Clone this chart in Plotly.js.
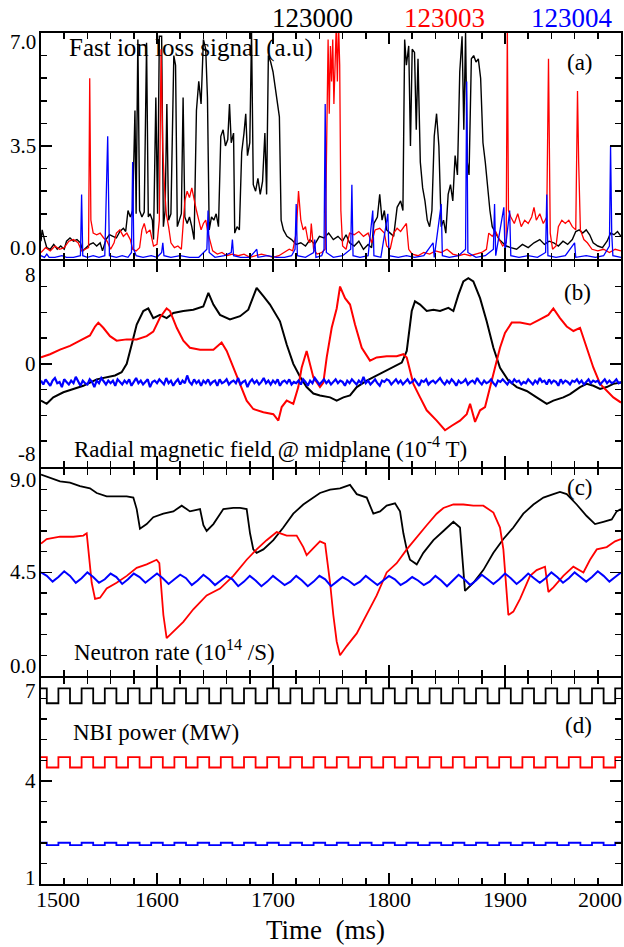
<!DOCTYPE html>
<html><head><meta charset="utf-8">
<script src="https://cdn.plot.ly/plotly-3.0.1.min.js"></script>
<style>html,body{margin:0;padding:0;background:#fff}#chart{width:624px;height:947px}</style>
</head><body><div id="chart"></div>
<script>
// ---------- shot labels ----------
const shots = ['123000', '123003', '123004'];
const shotColors = ['#000000', '#ff0000', '#0000ff'];

// ---------- axis ticks ----------
const xTickVals = [1500, 1600, 1700, 1800, 1900, 2000];
const xTickText = ['1500', '1600', '1700', '1800', '1900', '2000'];
const aTickVals = [0, 3.5, 7];   const aTickText = ['0.0', '3.5', '7.0'];
const bTickVals = [-8, 0, 8];    const bTickText = ['-8', '0', '8'];
const cTickVals = [0, 4.5, 9];   const cTickText = ['0.0', '4.5', '9.0'];
const dTickVals = [1, 4, 7];     const dTickText = ['1', '4', '7'];

// ---------- (a) fast ion loss signal ----------
const aBlackT = [1500,1501,1503,1505,1508,1511,1514,1517,1520,1522,1525,1528,1531,1534,1536,1539,1542,1545,1548,1551,1553,1556,1559,1562,1565,1568,1571,1573,1575,1577,1579,1581,1582,1583.5,1585,1587,1589,1591,1592.5,1594,1596,1597,1599,1600.5,1602,1604,1605.5,1607,1608.5,1610,1612,1614.5,1616,1617.5,1619,1621,1622.5,1624,1626,1628,1630,1632,1634,1636,1638,1640,1642,1643.5,1645,1647,1649,1651,1653,1655,1657,1659,1661,1662.5,1664,1666,1667,1669,1671,1673,1675,1676.5,1678,1680,1681.5,1683,1685,1687,1689,1691,1693,1694.5,1696,1698,1700,1702,1704,1705.5,1707,1709,1712,1716,1720,1724,1728,1732,1736,1740,1744,1748,1752,1756,1760,1763,1766,1770,1774,1778,1782,1785,1787,1790,1792,1794,1796,1798,1801,1804,1807,1810,1812,1813.5,1815,1817,1818.5,1820,1822,1823.5,1825,1827,1829,1831,1833,1835,1837,1839,1841,1843,1845,1847,1849,1851,1853,1855,1857,1859,1861,1863,1864.5,1866,1867.5,1869,1871,1873,1875,1877,1879,1881,1883,1885,1887,1889,1892,1895,1898,1901,1905,1910,1915,1920,1925,1930,1934,1938,1942,1946,1950,1954,1958,1961,1964,1967,1970,1973,1976,1980,1984,1988,1991,1994,1997,2000];
const aBlackV = [0.55,0.9,0.6,0.35,0.3,0.45,0.3,0.4,0.3,0.55,0.65,0.55,0.6,0.5,0.25,0.35,0.45,0.5,0.4,0.5,0.25,0.6,0.75,0.7,0.65,0.85,0.95,0.85,1.5,1.3,1.5,4.6,1.4,6.8,1.5,1.3,1.45,6.7,1.3,1.4,1.2,0.6,5.0,1.4,6.9,6.9,1.0,1.5,4.8,1.2,1.4,6.3,6.0,1.0,1.2,1.4,5.0,1.3,1.1,1.3,1.0,0.6,4.6,5.5,4.8,6.8,6.5,5.0,0.9,1.3,1.2,1.4,1.0,3.8,4.0,3.5,3.7,4.8,3.6,3.9,0.8,1.0,0.9,3.3,3.9,4.5,3.2,3.6,7.0,2.3,2.1,2.5,2.0,2.4,3.9,2.0,6.3,6.1,5.8,5.3,4.7,4.4,1.2,0.9,0.7,0.6,0.45,0.5,0.4,0.6,0.45,0.7,0.65,0.8,0.6,0.7,0.55,0.75,0.5,0.4,0.55,0.3,0.45,0.35,1.1,1.3,2.0,1.2,1.5,0.9,0.8,0.7,1.6,1.8,1.5,6.8,6.0,6.6,3.5,6.5,6.4,4.0,6.2,3.0,2.2,1.8,1.2,1.0,1.5,3.8,4.5,3.5,1.0,1.2,0.8,2.0,2.3,1.8,3.2,2.6,5.8,6.9,4.0,7.0,3.0,2.6,6.2,6.3,6.1,6.2,5.6,3.6,3.0,2.2,1.5,1.0,0.8,0.6,0.5,0.4,0.35,0.3,0.45,0.35,0.5,0.6,0.45,0.55,0.5,0.4,0.55,0.45,0.6,0.85,0.9,0.8,0.9,0.75,0.5,0.4,0.35,0.55,0.8,0.75,0.85,0.7];

const aRedT = [1500,1504,1508,1512,1516,1520,1524,1528,1532,1535,1538,1541,1542,1543,1545,1548,1551,1554,1557,1560,1563,1565,1568,1571,1574,1577,1579,1582,1585,1587,1589,1591,1594,1597,1600,1602,1603.5,1605,1606.5,1608,1610,1612,1615,1618,1621,1624,1626,1628,1630,1632,1634,1636,1638,1640,1642,1644,1646,1648,1652,1656,1660,1665,1670,1675,1680,1685,1690,1695,1700,1705,1710,1714,1717,1720,1722,1724,1726,1728,1730,1732,1733,1735,1738,1742,1745,1746.5,1747.5,1748.5,1749.5,1750.5,1751.5,1752.5,1753.5,1754.5,1755.5,1756.5,1757.5,1758.5,1760,1763,1766,1770,1774,1778,1782,1785,1788,1792,1796,1798,1801,1804,1807,1810,1815,1817,1820,1825,1830,1835,1840,1845,1850,1855,1860,1865,1870,1875,1880,1884,1886,1889,1892,1895,1898,1901,1902,1903,1905,1908,1911,1914,1917,1920,1923,1925,1927,1930,1933,1936,1937.5,1939,1941,1944,1946,1949,1952,1955,1958,1961,1962.5,1963.5,1965,1968,1971,1975,1980,1985,1990,1995,2000];
const aRedV = [0.2,0.35,0.25,0.4,0.3,0.35,0.55,0.6,0.5,0.25,0.3,0.35,5.6,1.2,0.8,0.75,0.8,0.65,0.55,0.3,0.5,0.8,0.9,0.7,0.8,0.6,0.3,0.25,0.35,0.9,1.1,0.8,0.9,0.4,0.45,1.2,6.5,3.4,2.2,1.4,1.0,0.5,0.35,0.4,0.3,1.8,2.1,1.9,2.2,1.8,1.5,1.2,0.9,1.1,1.2,0.8,0.5,0.25,0.15,0.2,0.1,0.15,0.1,0.15,0.05,0.1,0.15,0.1,0.05,0.1,0.2,0.3,0.25,0.8,2.1,1.2,0.9,1.0,0.6,0.5,1.1,0.3,0.15,0.2,0.3,5.0,6.8,4.5,6.6,5.5,6.8,4.8,6.3,7.2,5.5,7.3,6.0,1.5,0.4,0.3,0.8,0.75,0.85,0.7,0.8,0.5,0.9,0.95,0.8,0.4,0.3,0.8,0.95,0.85,1.1,0.3,0.15,0.1,0.2,0.15,0.25,0.2,0.3,0.15,0.1,0.15,0.1,0.15,0.2,0.3,0.8,0.7,0.85,0.6,0.4,0.5,7.2,1.5,1.3,1.1,1.4,1.0,1.2,1.1,1.3,1.6,1.2,1.4,1.1,1.3,6.2,0.8,0.3,0.4,1.0,1.2,1.1,1.2,1.0,0.9,5.2,3.0,0.9,0.6,0.5,0.3,0.25,0.3,0.2,0.3,0.25];

const aBlueT = [1500,1503,1505,1507,1512,1518,1522,1528,1534,1535,1536,1540,1545,1550,1555,1557.5,1559,1565,1570,1575,1578,1579,1580,1582,1588,1595,1600,1604,1605,1606,1612,1620,1628,1636,1643,1644,1645,1650,1658,1664,1665,1666,1672,1680,1686,1687,1695,1703,1710,1716,1719,1720,1721,1728,1735,1736,1737,1742,1744,1745,1746,1752,1760,1767,1768,1769,1775,1782,1786,1787,1793,1799,1800,1808,1815,1822,1830,1838,1839,1845,1846,1852,1860,1866,1867,1868,1875,1883,1890,1891,1892,1899,1900,1904,1905,1912,1920,1928,1935,1936,1937,1944,1952,1960,1961,1970,1978,1985,1990,1991,1992,1993,2000];
const aBlueV = [0.1,0.05,0.15,0.05,0.05,0.1,0.05,0.05,0.1,2.0,0.1,0.05,0.1,0.05,0.1,3.8,0.1,0.05,0.1,0.05,0.2,3.0,0.3,0.1,0.05,0.1,0.05,0.2,0.5,0.1,0.05,0.1,0.05,0.05,0.3,1.5,0.2,0.05,0.1,0.2,0.6,0.1,0.05,0.05,0.3,0.05,0.1,0.05,0.05,0.1,0.3,1.7,0.1,0.05,0.2,0.6,0.05,0.1,0.3,4.8,0.2,0.05,0.1,0.3,2.3,0.1,0.05,0.1,1.5,0.1,0.05,1.4,0.1,0.05,0.1,0.05,0.1,0.5,0.05,1.7,0.1,0.05,0.1,0.3,5.5,0.2,0.05,0.1,0.3,1.7,0.1,1.6,0.2,1.5,0.1,0.05,0.1,0.05,0.2,2.0,0.1,0.05,0.1,0.5,0.05,0.1,0.05,0.1,0.4,3.5,0.8,0.1,0.05];

// ---------- (b) radial magnetic field ----------
const bBlackT = [1500,1504.9,1510.6,1519.3,1527.9,1536.5,1548,1556.6,1563.8,1569.5,1573.9,1578.2,1582.5,1588.2,1592.5,1596.8,1602.6,1608.3,1614.1,1622.7,1631.3,1639.9,1644.3,1648.6,1654.3,1662.9,1671.6,1678.7,1685.9,1691.7,1697.4,1706,1711.8,1717.5,1723.3,1729,1734.8,1740.5,1749.2,1754.9,1760.7,1766.4,1772.2,1780.8,1789.4,1798,1806.6,1811,1815.3,1819.6,1822.4,1826.8,1832.5,1838.3,1844,1851.2,1855.5,1859.8,1864.1,1868.4,1872.7,1878.5,1884.2,1890,1895.7,1902.9,1910.1,1918.7,1927.3,1936,1941.7,1950.3,1956.1,1964.7,1970.4,1976.2,1982,1987.7,1993.4,2000];
const bBlackV = [-2.85,-3.1,-2.6,-2.2,-1.95,-1.7,-1.2,-1.05,-0.9,-0.65,0,1.5,3.05,4.1,4.3,3.55,3.8,3.55,3.95,4.1,4.2,4.45,5.5,4.6,3.8,3.45,3.7,4.2,5.9,5.25,4.6,3.3,1.5,0,-1.0,-1.8,-2.3,-2.45,-2.6,-2.85,-2.6,-2.45,-1.8,-1.3,-0.9,-0.55,-0.15,0.1,1.0,4.1,4.85,4.6,4.1,4.2,4.1,4.35,4.1,5.35,6.4,6.65,6.4,5.1,3.3,1.25,-0.3,-1.3,-1.8,-2.1,-2.6,-3.1,-2.85,-2.6,-2.35,-1.8,-1.55,-1.7,-1.95,-1.8,-1.55,-1.45];

const bRedT = [1500,1507.8,1516.4,1525,1533.6,1542.2,1546.6,1549.4,1553.7,1559.5,1565.2,1573.9,1582.5,1591.1,1596.8,1602.6,1608.3,1611.2,1617,1622.7,1628.4,1637.1,1648.6,1655.7,1660.1,1665.8,1671.6,1677.3,1683,1691.7,1700.3,1704.6,1707.5,1711.8,1717.5,1721.8,1724.7,1729,1734.8,1740.5,1743.4,1746.3,1750.6,1754.9,1757.8,1762.1,1766.4,1770.7,1776.5,1783.6,1789.4,1798,1806.6,1812.4,1815.3,1821,1826.8,1832.5,1841.1,1848.3,1854.1,1861.2,1867,1869.9,1874.2,1878.5,1882.8,1887.1,1891.4,1895.7,1900,1905.8,1913,1921.6,1930.2,1937.4,1941.7,1947.4,1953.2,1959,1964.7,1970.4,1976.2,1982,1987.7,1993.4,2000];
const bRedV = [0.5,0.75,1.1,1.4,1.8,2.2,2.9,3.2,2.8,2.15,1.8,1.9,1.9,2.15,2.5,3.6,4.3,4.1,2.8,1.8,1.25,1.1,1.1,1.65,1.0,-0.3,-1.55,-2.85,-3.5,-3.75,-3.9,-4.4,-3.35,-2.85,-3.1,-1.8,-0.3,1.0,-1.05,-1.8,-1.45,0.5,2.8,4.3,6.0,5.1,4.6,3.05,1.25,0.25,0.5,0.6,0.6,0.75,0.5,-1.55,-2.6,-3.6,-4.4,-5.15,-4.8,-4.4,-3.9,-3.1,-4.5,-3.6,-3.35,-1.8,-0.3,1.25,2.4,3.2,3.2,3.05,3.45,3.8,4.3,3.55,2.9,2.55,2.8,1.25,-0.3,-1.55,-2.1,-2.6,-3.0];

const bBlueStart = 1500, bBlueStep = 2;
const bBlueV = [
-1.3,-1.6,-1.2,-1.5,-1.7,-1.3,-1.1,-1.5,-1.4,-1.8,
-1.2,-1.4,-1.6,-1.3,-1.5,-1.0,-1.4,-1.7,-1.3,-1.5,
-1.6,-1.2,-1.4,-1.8,-1.3,-1.5,-1.1,-1.4,-1.6,-1.3,
-1.5,-1.3,-1.7,-1.2,-1.4,-1.6,-1.3,-1.5,-1.2,-1.7,
-1.4,-1.1,-1.5,-1.3,-1.6,-1.4,-1.2,-1.8,-1.4,-1.3,
-1.5,-1.2,-1.4,-1.6,-1.1,-1.5,-1.3,-1.7,-1.4,-1.2,
-1.6,-1.3,-1.5,-0.9,-1.4,-1.6,-1.2,-1.5,-1.3,-1.7,
-1.3,-1.5,-1.2,-1.6,-1.4,-1.3,-1.7,-1.2,-1.5,-1.4,
-1.2,-1.6,-1.4,-1.3,-1.5,-1.1,-1.6,-1.4,-1.3,-1.8,
-1.4,-1.2,-1.5,-1.3,-1.6,-1.4,-1.1,-1.5,-1.3,-1.6,
-1.3,-1.5,-1.2,-1.7,-1.4,-1.3,-1.5,-1.2,-1.6,-1.4,
-1.5,-1.3,-1.6,-1.2,-1.4,-1.7,-1.3,-1.5,-1.1,-1.4,
-1.6,-1.4,-1.2,-1.5,-1.3,-1.6,-1.4,-1.2,-1.5,-1.3,
-1.4,-1.7,-1.3,-1.5,-1.2,-1.4,-1.6,-1.3,-1.5,-1.0,
-1.5,-1.3,-1.6,-1.4,-1.2,-1.5,-1.7,-1.3,-1.4,-1.2,
-1.3,-1.6,-1.4,-1.2,-1.5,-1.3,-1.6,-1.4,-1.2,-1.5,
-1.4,-1.2,-1.5,-1.7,-1.3,-1.4,-1.2,-1.6,-1.4,-1.3,
-1.5,-1.3,-1.1,-1.4,-1.6,-1.3,-1.5,-1.2,-1.4,-1.7,
-1.3,-1.5,-1.4,-1.2,-1.6,-1.4,-1.3,-1.5,-1.1,-1.4,
-1.6,-1.3,-1.5,-1.4,-1.2,-1.5,-1.7,-1.3,-1.4,-1.2,
-1.4,-1.6,-1.3,-1.5,-1.2,-1.4,-1.3,-1.6,-1.4,-1.5,
-1.2,-1.4,-1.6,-1.3,-1.5,-1.1,-1.4,-1.3,-1.6,-1.2,
-1.5,-1.3,-1.4,-1.7,-1.2,-1.5,-1.3,-1.4,-1.6,-1.3,
-1.4,-1.2,-1.5,-1.3,-1.6,-1.4,-1.2,-1.5,-1.3,-1.4,
-1.3,-1.6,-1.4,-1.2,-1.5,-1.3,-1.5,-1.4,-1.2,-1.5,
-1.4];

// ---------- (c) neutron rate ----------
const cBlackT = [1500,1507.8,1516.4,1525,1533.6,1542.2,1548,1556.6,1565.2,1573.9,1579.6,1582.5,1585.3,1591.1,1596.8,1605.5,1614.1,1621.3,1628.4,1637.1,1640,1642.8,1648.6,1657.2,1665.8,1671.6,1677.3,1680.2,1683,1685.9,1691.7,1700.3,1708.9,1717.5,1726.1,1734.8,1740.5,1749.2,1757.8,1766.4,1772.2,1780.8,1786.5,1792.3,1798,1805.2,1809.5,1812.4,1815.3,1818.1,1823.9,1829.6,1838.3,1846.9,1855.5,1861.2,1864.1,1865.5,1872.7,1881.3,1890,1898.6,1907.2,1915.8,1924.5,1933.1,1941.7,1947.4,1953.2,1961.8,1970.4,1977.6,1984.8,1992,1996.3,2000];
const cBlackV = [8.75,8.6,8.45,8.4,8.25,8.15,7.95,7.8,7.8,7.8,7.75,7.25,6.4,6.6,6.9,7.05,7.15,7.4,7.15,7.25,6.55,6.3,6.6,7.25,7.3,7.3,7.25,6.2,5.5,5.35,5.5,5.9,6.45,7.05,7.45,7.75,7.95,8.1,8.15,8.3,7.9,7.75,7.05,7.15,7.4,7.5,7.15,6.2,5.5,5.05,4.85,5.35,5.9,6.3,6.7,6.45,4.75,3.7,4.05,4.6,5.35,5.95,6.45,7.05,7.45,7.75,7.9,8.0,7.9,7.45,6.95,6.6,6.7,6.8,7.15,7.25];

const cRedT = [1500,1504.9,1516.4,1527.9,1536.5,1539.4,1540.8,1543.7,1546.6,1550.9,1556.6,1565.2,1573.9,1582.5,1591.1,1599.7,1602,1604,1605.5,1608.3,1614.1,1622.7,1631.3,1642.8,1654.3,1665.8,1677.3,1685.9,1694.5,1703.2,1711.8,1720.4,1726.1,1729,1734.8,1740.5,1744.9,1749.2,1752,1754.9,1757.8,1763.5,1772.2,1780.8,1789.4,1798,1806.6,1815.3,1823.9,1832.5,1841.1,1846.9,1855.5,1864.1,1872.7,1881.3,1890,1895.7,1898.6,1901.5,1902.9,1907.2,1913,1921.6,1927.3,1934.5,1937.4,1941.7,1950.3,1958.9,1967.6,1973.3,1979.1,1987.7,1994.9,2000];
const cRedV = [5.75,5.95,6.05,6.05,6.1,6.2,5.5,4.05,3.35,3.4,3.8,4.05,4.35,4.7,4.85,5.05,4.9,3.8,2.65,1.65,1.95,2.35,2.9,3.5,3.8,4.35,5.05,5.5,5.9,6.25,6.1,6.1,5.6,5.25,5.55,5.85,5.75,4.05,2.65,1.5,0.9,1.3,1.85,2.65,3.5,4.5,4.9,5.5,6.05,6.55,7.05,7.3,7.45,7.45,7.4,7.4,7.1,6.45,5.5,3.8,2.65,2.8,3.35,4.35,4.6,4.75,3.65,3.85,4.35,4.75,4.5,5.05,5.5,5.6,5.85,5.95];

const cBlueStart = 1500, cBlueStep = 5;
const cBlueV = [
4.5,4.35,4.1,4.3,4.55,4.35,4.05,4.25,4.5,4.3,4.05,4.2,4.45,4.3,4.0,4.2,4.45,4.3,4.05,4.25,
4.45,4.25,4.0,4.2,4.4,4.25,3.95,4.15,4.4,4.2,3.95,4.15,4.35,4.2,3.9,4.1,4.35,4.15,3.9,4.1,
4.35,4.15,3.95,4.1,4.35,4.15,3.9,4.1,4.35,4.2,3.9,4.1,4.3,4.15,3.95,4.1,4.35,4.15,3.95,4.15,
4.35,4.2,3.95,4.1,4.3,4.15,3.95,4.1,4.35,4.15,3.9,4.15,4.4,4.2,3.95,4.15,4.4,4.2,4.0,4.2,
4.45,4.25,4.0,4.2,4.45,4.25,4.05,4.25,4.5,4.3,4.05,4.25,4.5,4.3,4.1,4.3,4.55,4.35,4.1,4.3,4.5];

// ---------- (d) NBI power: switching times and the two levels of each beam ----------
const dStart = 1500, dEnd = 2000;
const dEdges = [1505,1515,1525,1535,1545,1555,1565,1575,1585,1595,1605,1615,1625,1635,1645,1655,1665,1675,1685,1695,1705,1715,1725,1735,1745,1755,1765,1775,1785,1795,1805,1815,1825,1835,1845,1855,1865,1875,1885,1895,1905,1915,1925,1935,1945,1955,1965,1975,1985,1995];
const dBlackHigh = 6.69, dBlackLow = 6.26;
const dRedHigh = 4.69, dRedLow = 4.39;
const dBlueHigh = 2.2, dBlueLow = 2.13;

// ---------- build ----------
function gridT(start, step, n) { const t = []; for (let i = 0; i < n; i++) t.push(start + step * i); return t; }
function square(hi, lo) {
  const x = [dStart], y = [hi];
  let cur = hi;
  dEdges.forEach(e => { cur = (cur === hi) ? lo : hi; x.push(e); y.push(cur); });
  x.push(dEnd); y.push(cur);
  return {x, y};
}
function tr(x, y, xa, ya, color, w, shape) {
  return {type: 'scatter', mode: 'lines', x, y, xaxis: xa, yaxis: ya, hoverinfo: 'skip',
          line: {color, width: w, shape: shape || 'linear'}};
}
const sqK = square(dBlackHigh, dBlackLow), sqR = square(dRedHigh, dRedLow), sqB = square(dBlueHigh, dBlueLow);

const data = [
  tr(aBlackT, aBlackV, 'x', 'y', shotColors[0], 1.4),
  tr(aRedT, aRedV, 'x', 'y', shotColors[1], 1.3),
  tr(aBlueT, aBlueV, 'x', 'y', shotColors[2], 1.3),
  tr(bBlackT, bBlackV, 'x2', 'y2', shotColors[0], 2),
  tr(bRedT, bRedV, 'x2', 'y2', shotColors[1], 2),
  tr(gridT(bBlueStart, bBlueStep, bBlueV.length), bBlueV, 'x2', 'y2', shotColors[2], 2.2),
  tr(cBlackT, cBlackV, 'x3', 'y3', shotColors[0], 1.8),
  tr(cRedT, cRedV, 'x3', 'y3', shotColors[1], 1.8),
  tr(gridT(cBlueStart, cBlueStep, cBlueV.length), cBlueV, 'x3', 'y3', shotColors[2], 2),
  tr(sqK.x, sqK.y, 'x4', 'y4', shotColors[0], 1.8, 'hv'),
  tr(sqR.x, sqR.y, 'x4', 'y4', shotColors[1], 1.8, 'hv'),
  tr(sqB.x, sqB.y, 'x4', 'y4', shotColors[2], 1.8, 'hv')
];

const FONT = "'Liberation Serif', 'Times New Roman', serif";
const axBase = {showline: true, linecolor: '#000', linewidth: 1.8, mirror: 'ticks', ticks: 'inside',
  ticklen: 11, tickwidth: 1.5, tickcolor: '#000', showgrid: false, zeroline: false,
  showticklabels: false, fixedrange: true};
function xax(anchor) {
  return Object.assign({}, axBase, {anchor, range: [1500, 2000], tick0: 1500, dtick: 100,
    minor: {ticks: 'inside', ticklen: 6, dtick: 20, tick0: 1500, tickwidth: 1.5, tickcolor: '#000'}});
}
function yax(anchor, domain, range, dtick, mdtick) {
  return Object.assign({}, axBase, {anchor, domain, range, tick0: range[0], dtick,
    minor: {ticks: 'inside', ticklen: 6, dtick: mdtick, tick0: range[0], tickwidth: 1.5, tickcolor: '#000'}});
}

// neighbouring panels overlap by one line width so their shared border is drawn once
const ov = 1.8 / 851;
const dom = {a: [0.7345, 1], b: [0.490, 0.7345 - ov], c: [0.2444, 0.490 - ov], d: [0, 0.2444 - ov]};

const ann = [];
function ylabels(vals, texts, yref, shifts) {
  vals.forEach((v, i) => ann.push({xref: 'paper', x: 0, xanchor: 'right', xshift: -3,
    yref, y: v, yanchor: 'middle', yshift: shifts[i], text: texts[i], showarrow: false,
    font: {family: FONT, size: 21, color: '#000'}}));
}
ylabels(aTickVals, aTickText, 'y', [11, 0, -9]);
ylabels(bTickVals, bTickText, 'y2', [13, 0, -14]);
ylabels(cTickVals, cTickText, 'y3', [10, 0, -11]);
ylabels(dTickVals, dTickText, 'y4', [6, 0, -13]);
const xShifts = [17, 0, 0, 0, 0, -21];
xTickVals.forEach((v, i) => ann.push({xref: 'x4', x: v, xanchor: 'center', xshift: xShifts[i],
  yref: 'paper', y: 0, yanchor: 'top', yshift: -1, text: xTickText[i], showarrow: false,
  font: {family: FONT, size: 22, color: '#000'}}));

const shotX = [312, 445, 572];
shots.forEach((s, i) => ann.push({xref: 'paper', x: (shotX[i] - 41) / 580, xanchor: 'center',
  yref: 'paper', y: 1 + 15.5 / 851, yanchor: 'middle', text: s, showarrow: false,
  font: {family: FONT, size: 27, color: shotColors[i]}}));

function txt(text, px, py, anchor, size) {
  ann.push({xref: 'paper', x: (px - 41) / 580, xanchor: anchor, yref: 'paper', y: (884 - py) / 851,
    yanchor: 'middle', text, showarrow: false, font: {family: FONT, size: size || 23, color: '#000'}});
}
txt('Fast ion loss signal (a.u)', 67, 48, 'left', 25);
txt('(a)', 580, 62, 'center');
txt('(b)', 577, 292, 'center');
txt('Radial magnetic field @ midplane (10<sup>-4</sup> T)', 72, 447, 'left');
txt('(c)', 580, 488, 'center');
txt('Neutron rate (10<sup>14</sup> /S)', 72, 650, 'left');
txt('NBI power (MW)', 71, 732, 'left');
txt('(d)', 578, 725, 'center');
txt('Time\u00a0 (ms)', 325, 930, 'center', 27);

const layout = {
  width: 624, height: 947, margin: {l: 41, r: 3, t: 33, b: 63},
  paper_bgcolor: '#fff', plot_bgcolor: '#fff', showlegend: false,
  font: {family: FONT, color: '#000'},
  xaxis: xax('y'), xaxis2: xax('y2'), xaxis3: xax('y3'), xaxis4: xax('y4'),
  yaxis: yax('x', dom.a, [0, 7], 3.5, 0.7),
  yaxis2: yax('x2', dom.b, [-8, 8], 8, 2),
  yaxis3: yax('x3', dom.c, [0, 9], 4.5, 0.9),
  yaxis4: yax('x4', dom.d, [1, 7], 3, 0.6),
  annotations: ann
};

Plotly.newPlot('chart', data, layout, {staticPlot: true, displayModeBar: false});
</script></body></html>
